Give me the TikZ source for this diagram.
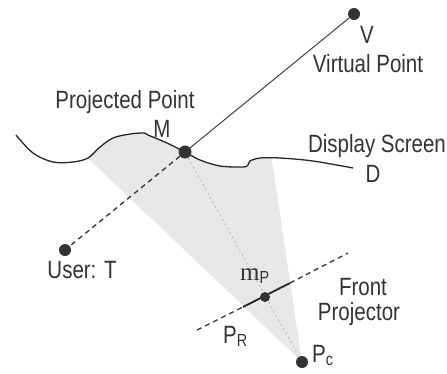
\documentclass[tikz,border=0pt]{standalone}
\usepackage{fontspec}
\setmainfont{Liberation Sans}[FakeStretch=0.82]
\newfontfamily\mfont{Liberation Serif}
\usetikzlibrary{positioning,backgrounds}

% the wavy display screen
\newcommand{\screencurve}{plot[smooth,tension=0.55] coordinates {(16,135) (33,153) (53,162) (73,162) (88,158) (100,147) (113,138) (130,134) (144,133) (148,135) (167,143) (185,152) (200,160) (220,166) (243,167) (248,165) (250,161) (260,158) (280,158) (313,161) (353,168)}}

\begin{document}
\begin{tikzpicture}[x=1pt,y=-1pt,
  dot/.style={circle,fill=black!80,inner sep=0pt,minimum size=#1},
  dot/.default=12pt,
  lbl/.style={inner sep=0pt,text=black!80,font=\fontsize{25}{29}\selectfont},
  ray/.style={black!75,line width=1pt},
  sight/.style={black!80,line width=1.3pt,dash pattern=on 5pt off 4pt},
  proj/.style={black!25,line width=1pt,dash pattern=on 2pt off 3pt}]
\useasboundingbox (0,0) rectangle (447,373);

% points
\node[dot=13pt] (M) at (185,152) {};
\node[dot] (V) at (354,14) {};
\node[dot] (T) at (65,250) {};
\node[dot] (Pc) at (302,362) {};
\node[dot=10pt] (mP) at (265,297) {};

% projector image plane
\coordinate (PRa) at (197,330);
\coordinate (PRb) at (348,253);
\coordinate (PRs) at (243,307);
\coordinate (PRe) at (290,283);

\begin{scope}[on background layer]
% projector frustum, clipped below the screen
\begin{scope}
\clip \screencurve -- (447,373) -- (0,373) -- (0,168) -- cycle;
\fill[black!9] (Pc.center) -- (48,120) -- (266,120) -- cycle;
\end{scope}
\draw[black!85,line width=1.3pt] \screencurve;

\draw[sight] (PRa) -- (PRs);
\draw[sight] (PRe) -- (PRb);
\draw[black!85,line width=1.8pt] (PRs) -- (PRe);

% rays
\draw[proj] (M) -- (Pc);
\draw[ray] (M) -- (V);
\draw[sight] (M) -- (T);
\end{scope}

% labels
\node[lbl,anchor=base] (Vl) at (367,43) {V};
\node[lbl,anchor=base] (VPl) at (368,72) {Virtual Point};
\node[lbl,anchor=base] (PPl) at (125,108) {Projected Point};
\node[lbl,anchor=base] (Ml) at (162,137) {M};
\node[lbl,anchor=base] (DSl) at (377,152) {Display Screen};
\node[lbl,anchor=base] (Dl) at (373,182) {D};
\node[lbl,anchor=base] (Tl) at (82,278) {User: T};
\node[lbl,anchor=base] (FPl) at (363,295) {Front};
\node[lbl,anchor=base] (FPl2) at (359,320) {Projector};
\node[lbl,anchor=base west] (mPl) at (240,280) {{\mfont m}\textsubscript{P}};
\node[lbl,anchor=base west] (PRl) at (223,343) {P\textsubscript{R}};
\node[lbl,anchor=base west] (Pcl) at (312,362) {P\textsubscript{c}};
\end{tikzpicture}
\end{document}
